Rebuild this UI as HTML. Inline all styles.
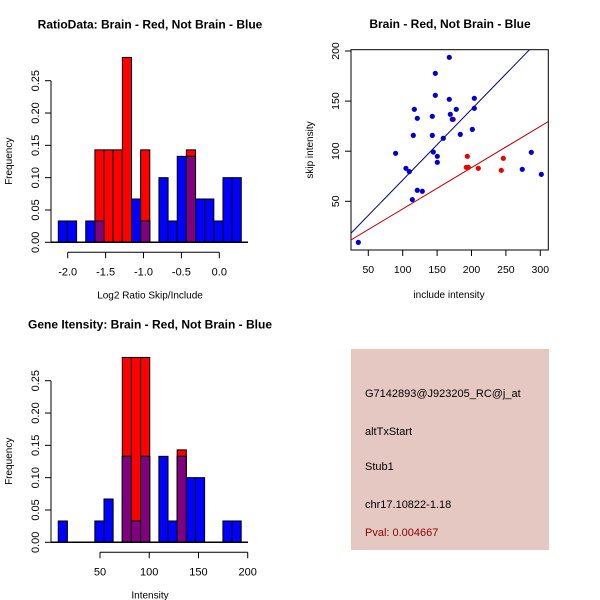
<!DOCTYPE html>
<html><head><meta charset="utf-8">
<style>
html,body{margin:0;padding:0;background:#fff;}
svg{display:block;font-family:"Liberation Sans",Arial,sans-serif;}
</style></head>
<body>
<svg id="chart" width="600" height="600" viewBox="0 0 600 600">
<rect x="0" y="0" width="600" height="600" fill="#fff"/>
<g id="p1"></g>
<g id="p2"></g>
<g id="p3"></g>
<g id="p4">
<rect x="351" y="349" width="198" height="201" fill="#e6c8c2"/>
<text x="365" y="397" font-size="11" fill="#000">G7142893@J923205_RC@j_at</text>
<text x="365" y="435" font-size="11" fill="#000">altTxStart</text>
<text x="365" y="470" font-size="11" fill="#000">Stub1</text>
<text x="365" y="508" font-size="11" fill="#000">chr17.10822-1.18</text>
<text x="365" y="536" font-size="11" fill="#8b0000">Pval: 0.004667</text>
</g>
</svg>
<script>
// ---- Histogram 1 data (Log2 ratio) ----
const h1Start = -2.124;
const h1Width = 0.1207;
const h1Red  = [0,0,0,0,0.143,0.143,0.143,0.286,0,0.143,0,0,0,0,0.143,0,0,0,0,0];
const h1Blue = [0.033,0.033,0,0.033,0.033,0,0,0,0.067,0.033,0,0.1,0.033,0.133,0.133,0.067,0.067,0.033,0.1,0.1];
const h1XTicks = [-2.0,-1.5,-1.0,-0.5,0.0];
const h1XLabels = ["-2.0","-1.5","-1.0","-0.5","0.0"];
const freqTicks = [0,0.05,0.10,0.15,0.20,0.25];
const freqLabels = ["0.00","0.05","0.10","0.15","0.20","0.25"];

// ---- Histogram 3 data (Intensity) ----
const h3Start = 7.6;
const h3Width = 9.29;
const h3Red  = [0,0,0,0,0,0,0,0.286,0.286,0.286,0,0,0,0.143,0,0,0,0,0,0];
const h3Blue = [0.033,0,0,0,0.033,0.067,0,0.133,0.033,0.133,0,0.133,0.033,0.133,0.1,0.1,0,0,0.033,0.033];
const h3XTicks = [50,100,150,200];
const h3XLabels = ["50","100","150","200"];

// ---- Scatter data ----
const blueX = [35.5,89.7,104.7,109.6,114,115.4,116.9,121.2,121.2,128.5,143,143,144.5,147.4,147.4,150.3,150.3,159,167.7,167.7,169.2,172.1,177.9,183.7,201.2,204.1,204.1,273.8,286.9,301.5];
const blueY = [9,97.9,82.9,79.6,51.7,115.8,141.8,132.8,61,60,134.8,115.8,99.2,177.7,155.8,94.9,88.9,112.9,193.7,151.8,136.8,131.8,141.8,116.8,121.8,152.8,142.8,81.9,98.9,76.9];
const redX = [173.5,193.9,192.4,195.3,209.9,243.3,246.2];
const redY = [131.8,94.9,83.9,83.9,82.9,80.9,92.9];
const blueLine = [0.6, 0.706];  // intercept, slope
const redLine = [1.2, 0.412];
const scXTicks = [50,100,150,200,250,300];
const scYTicks = [50,100,150,200];

const NS="http://www.w3.org/2000/svg";
function mk(parent, tag, attrs){
  const e=document.createElementNS(NS,tag);
  for(const k in attrs) e.setAttribute(k, attrs[k]);
  parent.appendChild(e); return e;
}
function txt(parent, x, y, s, attrs){
  const t=mk(parent,'text',Object.assign({x:x,y:y,'font-size':11,fill:'#000'},attrs||{}));
  t.textContent=s; return t;
}

function histogram(g, y0, xs, xDomain, start, width, red, blue, xticks, xlabels, title, xtitle){
  // xs: function data->px
  const ys = v => y0 - v*(161.6/0.25);
  const t=txt(g,150,y0-214,title,{'font-size':12,'font-weight':'bold','text-anchor':'middle'});
  
  
  for(let i=0;i<red.length;i++){
    const x1=xs(start+i*width), x2=xs(start+(i+1)*width);
    if(red[i]>0){
      const r=mk(g,'rect',{x:x1,y:ys(red[i]),width:x2-x1,height:y0-ys(red[i]),fill:'#ff0000',stroke:'#000','stroke-width':1});
      
      
    }
    if(blue[i]>0){
      const b=mk(g,'rect',{x:x1,y:ys(blue[i]),width:x2-x1,height:y0-ys(blue[i]),fill:'#0000ff',stroke:'#000','stroke-width':1});
      
      
    }
    if(red[i]>0 && blue[i]>0){
      const m=Math.min(red[i],blue[i]);
      const p=mk(g,'rect',{x:x1,y:ys(m),width:x2-x1,height:y0-ys(m),fill:'#800080',stroke:'#000','stroke-width':1});
      
      
    }
  }
  // baseline
  const bl=mk(g,'line',{x1:51,x2:248,y1:y0,y2:y0,stroke:'#000','stroke-width':1.5});
  
  
  // y axis
  const ya=mk(g,'line',{x1:51,x2:51,y1:ys(0),y2:ys(0.25),stroke:'#000'});
  
  
  freqTicks.forEach((v,i)=>{
    const tk=mk(g,'line',{x1:45,x2:51,y1:ys(v),y2:ys(v),stroke:'#000'});
    
    
    const l=txt(g,0,0,freqLabels[i],{'text-anchor':'middle',transform:`translate(39,${ys(v)}) rotate(-90)`});
    
    
  });
  const yt=txt(g,0,0,'Frequency',{'font-size':10,'text-anchor':'middle',transform:`translate(12,${y0-81}) rotate(-90)`});
  
  
  // x axis
  const ax=y0+10;
  const xa=mk(g,'line',{x1:xs(xticks[0]),x2:xs(xticks[xticks.length-1]),y1:ax,y2:ax,stroke:'#000'});
  
  
  xticks.forEach((v,i)=>{
    const tk=mk(g,'line',{x1:xs(v),x2:xs(v),y1:ax,y2:ax+6,stroke:'#000'});
    
    
    const l=txt(g,xs(v),ax+23,xlabels[i],{'text-anchor':'middle'});
    
    
  });
  const xt=txt(g,150,y0+56,xtitle,{'font-size':10,'text-anchor':'middle'});
  
  
}

histogram(document.getElementById('p1'), 242.3, v=>219.3+v*75.8, null, h1Start, h1Width, h1Red, h1Blue, h1XTicks, h1XLabels,
  'RatioData: Brain - Red, Not Brain - Blue','Log2 Ratio Skip/Include');
histogram(document.getElementById('p3'), 542.3, v=>100+(v-50)*0.9847, null, h3Start, h3Width, h3Red, h3Blue, h3XTicks, h3XLabels,
  'Gene Itensity: Brain - Red, Not Brain - Blue','Intensity');

// ---- Scatter ----
(function(){
  const g=document.getElementById('p2');
  const sx=v=>368.3+(v-50)*(172/250);
  const sy=v=>201.3-(v-50)*(150.3/150);
  const L=351,R=548.3,T=49.7,B=250;
  const t=txt(g,450,28,'Brain - Red, Not Brain - Blue',{'font-size':12,'font-weight':'bold','text-anchor':'middle'});
  
  
  const box=mk(g,'rect',{x:L,y:T,width:R-L,height:B-T,fill:'none',stroke:'#000'});
  
  
  mk(g,'clipPath',{id:'clipsc'}).appendChild(document.createElementNS(NS,'rect'));
  const cr=document.querySelector('#clipsc rect');
  cr.setAttribute('x',L);cr.setAttribute('y',T);cr.setAttribute('width',R-L);cr.setAttribute('height',B-T);
  const inv=px=>50+(px-368.3)*250/172;
  const lineFor=(p,color,name)=>{
    const xa=inv(L), xb=inv(R);
    const ln=mk(g,'line',{x1:L,x2:R,y1:sy(p[0]+p[1]*xa),y2:sy(p[0]+p[1]*xb),stroke:color,'stroke-width':1,'clip-path':'url(#clipsc)'});
    
    
  };
  lineFor(blueLine,'#00008b','blue-fit-line');
  lineFor(redLine,'#c00000','red-fit-line');
  redX.forEach((x,i)=>{
    const c=mk(g,'circle',{cx:sx(x),cy:sy(redY[i]),r:2.6,fill:'#ee0000'});
    
    
  });
  blueX.forEach((x,i)=>{
    const c=mk(g,'circle',{cx:sx(x),cy:sy(blueY[i]),r:2.6,fill:'#0000cc'});
    
    
  });
  scXTicks.forEach(v=>{
    const tk=mk(g,'line',{x1:sx(v),x2:sx(v),y1:B,y2:B+6,stroke:'#000'});
    
    
    const l=txt(g,sx(v),B+23,String(v),{'font-size':10.5,'text-anchor':'middle'});
    
    
  });
  scYTicks.forEach(v=>{
    const tk=mk(g,'line',{x1:L-6,x2:L,y1:sy(v),y2:sy(v),stroke:'#000'});
    
    
    const l=txt(g,0,0,String(v),{'font-size':10.5,'text-anchor':'middle',transform:`translate(${L-12},${sy(v)}) rotate(-90)`});
    
    
  });
  const xt=txt(g,449,298,'include intensity',{'font-size':10,'text-anchor':'middle'});
  
  
  const yt=txt(g,0,0,'skip intensity',{'font-size':10,'text-anchor':'middle',transform:`translate(313,150) rotate(-90)`});
  
  
})();
</script>
</body></html>
